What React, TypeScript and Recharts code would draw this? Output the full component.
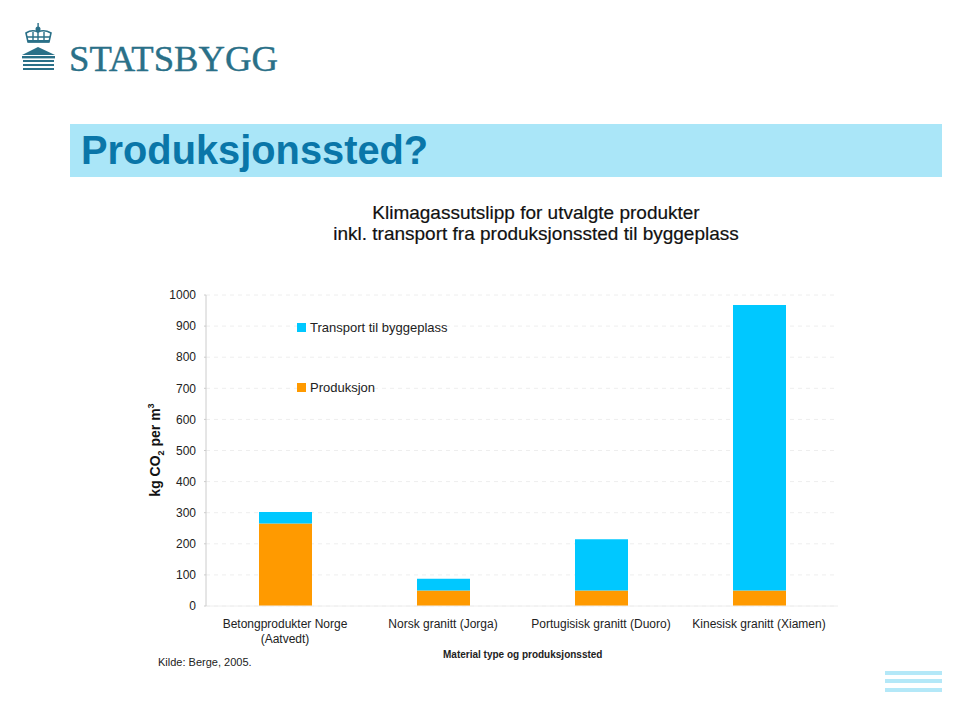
import { BarChart, Bar, XAxis, YAxis, CartesianGrid, Legend } from 'recharts';

const categories = ['Betongprodukter Norge (Aatvedt)', 'Norsk granitt (Jorga)', 'Portugisisk granitt (Duoro)', 'Kinesisk granitt (Xiamen)'];
const produksjon = [265, 50, 50, 50];
const transport = [37, 38, 165, 918];
const yTicks = [0, 100, 200, 300, 400, 500, 600, 700, 800, 900, 1000];

const data = categories.map((name, i) => ({ name, produksjon: produksjon[i], transport: transport[i] }));

const font = '"Liberation Sans", Arial, sans-serif';
const textColor = '#222222';
const blue = '#00c8ff';
const orange = '#ff9a00';

const legendItems = [
  { label: 'Transport til byggeplass', color: blue },
  { label: 'Produksjon', color: orange },
];

const ChartLegend = () => (
  <div>
    {legendItems.map((item) => (
      <div key={item.label} style={{ height: 60, display: 'flex', alignItems: 'center', fontSize: 13, color: textColor, fontFamily: font }}>
        <span style={{ width: 9, height: 9, background: item.color, marginRight: 4 }} />
        {item.label}
      </div>
    ))}
  </div>
);

// only the long first label breaks onto two lines
const CategoryTick = ({ x, y, payload }: any) => {
  const value: string = payload.value;
  const cut = value.indexOf(' (');
  const lines = value.length > 28 ? [value.slice(0, cut), value.slice(cut + 1)] : [value];
  return (
    <text x={x} y={y + 14} textAnchor="middle" fontSize={12} fill={textColor} fontFamily={font}>
      {lines.map((line, i) => (
        <tspan key={line} x={x} dy={i === 0 ? 0 : 14.5}>
          {line}
        </tspan>
      ))}
    </text>
  );
};

const Logo = () => (
  <svg width={290} height={80} style={{ position: 'absolute', left: 0, top: 0 }}>
    <g fill="#2a7088">
      <circle cx={38} cy={29} r={2.5} />
      <rect x={37.4} y={23} width={1.4} height={4} />
      <path d="M26 33 Q32 29 38 32 Q44 29 51 33 L49 42 L28 42 Z" fill="none" stroke="#2a7088" strokeWidth={1.6} />
      <path d="M33 32 L33 41 M38 32 L38 41 M44 32 L44 41 M27 37 L50 37" fill="none" stroke="#2a7088" strokeWidth={1.4} />
      <rect x={28} y={40} width={21} height={2.5} />
      <path d="M22 55 L38 47 L55 55 Z" />
      <rect x={22} y={56} width={33} height={2.4} />
      <rect x={23} y={60} width={31} height={2} />
      <rect x={23} y={64} width={31} height={2} />
      <rect x={23} y={68} width={31} height={2} />
    </g>
    <text x={69} y={71} fontFamily='"Liberation Serif", serif' fontSize={36} fill="#2a7088" stroke="#2a7088" strokeWidth={0.4} textLength={209} lengthAdjust="spacingAndGlyphs">
      STATSBYGG
    </text>
  </svg>
);

const App = () => (
  <div style={{ position: 'absolute', left: 0, top: 0, width: 960, height: 716, background: '#fff', overflow: 'hidden', fontFamily: font }}>
    <Logo />
    <div style={{ position: 'absolute', left: 70, top: 124, width: 872, height: 53, background: '#aae6f8' }} />
    <div style={{ position: 'absolute', left: 81, top: 126, fontSize: 39.8, lineHeight: '48px', fontWeight: 700, color: '#0a76a8' }}>
      Produksjonssted?
    </div>
    <div style={{ position: 'absolute', left: 0, width: 1072, top: 202, textAlign: 'center', fontSize: 19, lineHeight: '21px', color: '#111', WebkitTextStroke: '0.2px #111', whiteSpace: 'nowrap' }}>
      Klimagassutslipp for utvalgte produkter
      <br />
      inkl. transport fra produksjonssted til byggeplass
    </div>

    <div style={{ position: 'absolute', left: 0, top: 0 }}>
      <BarChart width={960} height={716} data={data} margin={{ top: 295, right: 122, bottom: 80, left: 146 }} barSize={53}>
        <CartesianGrid vertical={false} stroke="#eeeeee" strokeDasharray="4 4" />
        <XAxis
          dataKey="name"
          height={30}
          interval={0}
          axisLine={{ stroke: '#eeeeee' }}
          tickLine={false}
          tick={CategoryTick}
        />
        <YAxis
          width={60}
          domain={[0, 1000]}
          ticks={yTicks}
          axisLine={{ stroke: '#cccccc' }}
          tickLine={{ stroke: '#cccccc' }}
          tickSize={2}
          tickMargin={8}
          tick={{ fontSize: 12, fill: textColor, fontFamily: font }}
        />
        <Legend
          content={ChartLegend}
          layout="vertical"
          align="center"
          verticalAlign="middle"
          wrapperStyle={{ position: 'absolute', left: 297, top: 297, width: 200, bottom: 'auto' }}
        />
        <Bar dataKey="produksjon" stackId="a" fill={orange} isAnimationActive={false} />
        <Bar dataKey="transport" stackId="a" fill={blue} isAnimationActive={false} />
      </BarChart>
    </div>

    <div style={{ position: 'absolute', left: 155, top: 450, width: 0, height: 0 }}>
      <div style={{ position: 'absolute', whiteSpace: 'nowrap', transform: 'translate(-50%, -50%) rotate(-90deg)', fontSize: 14, fontWeight: 700, color: '#111' }}>
        kg CO<sub style={{ fontSize: 9, lineHeight: 0 }}>2</sub> per m<sup style={{ fontSize: 9, lineHeight: 0 }}>3</sup>
      </div>
    </div>
    <div style={{ position: 'absolute', left: 443, top: 649, fontSize: 10, fontWeight: 700, color: '#222', whiteSpace: 'nowrap' }}>Material type og produksjonssted</div>
    <div style={{ position: 'absolute', left: 158, top: 656, fontSize: 11, color: textColor, whiteSpace: 'nowrap' }}>Kilde: Berge, 2005.</div>

    <div style={{ position: 'absolute', left: 885, top: 671, width: 57, height: 4, background: '#b4e8f8' }} />
    <div style={{ position: 'absolute', left: 885, top: 679, width: 57, height: 4, background: '#b4e8f8' }} />
    <div style={{ position: 'absolute', left: 885, top: 688, width: 57, height: 4, background: '#b4e8f8' }} />
  </div>
);

export default App;
